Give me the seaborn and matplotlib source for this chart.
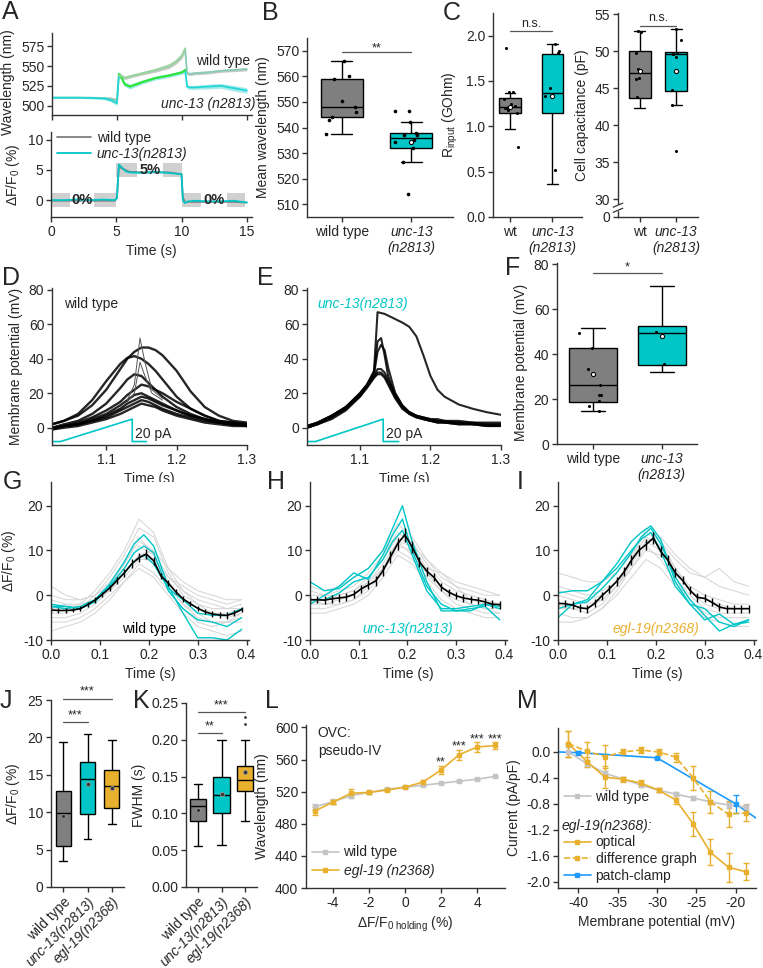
import numpy as np
import pandas as pd
import matplotlib
matplotlib.use("Agg")
import matplotlib.pyplot as plt
from matplotlib.lines import Line2D
import seaborn as sns

sns.set_style("ticks")
plt.rcParams['font.family'] = ['Liberation Sans', 'DejaVu Sans']
plt.rcParams['mathtext.fontset'] = 'custom'
plt.rcParams['mathtext.rm'] = 'Liberation Sans'
plt.rcParams['mathtext.it'] = 'Liberation Sans:italic'
plt.rcParams['axes.unicode_minus'] = False
plt.rcParams['font.size'] = 10
plt.rcParams['axes.edgecolor'] = '#333333'
plt.rcParams['axes.linewidth'] = 1

FS = 10
GRAY = '#7f7f7f'
CYAN = '#00c6c8'
ORANGE = '#e9b02e'
BLUE = '#1e9bff'
LGRAY = '#c4c4c4'

# ---------------- data ----------------
# A: wavelength and dF/F0 time courses
t_A = [0, 1, 2, 3, 4, 4.5, 5.0, 5.15, 5.3, 5.6, 6, 7, 8, 9, 9.5, 10, 10.25, 10.4, 10.6, 11, 12, 13, 14, 15]
wl_wt = [510, 510, 510, 510, 509.5, 509, 507, 538, 538, 535, 537, 541, 545, 550, 555, 563, 572, 541, 540, 541, 542, 544, 545, 546]
wl_wt_sem = [1, 1, 1, 1, 1, 1.5, 2, 2, 2, 2, 2, 2, 2.5, 3, 3, 3.5, 4, 2, 2, 2, 2, 2, 2, 2]
wl_unc = [510, 510, 510, 509.5, 509, 507, 503, 540, 537, 527, 524, 530, 535, 538, 540, 542, 545, 524, 523, 523, 524, 525, 522, 519]
wl_unc_sem = [1, 1, 1, 1, 1.5, 2, 3, 3, 3, 3, 3, 2.5, 2.5, 2.5, 2.5, 2.5, 3, 2.5, 2.5, 2.5, 3, 3, 3.5, 3.5]

t_A2 = [0, 1, 2, 3, 4, 4.9, 5.05, 5.2, 5.4, 5.7, 6, 7, 8, 9, 10, 10.1, 10.25, 10.5, 11, 12, 13, 14, 15]
df_wt = [-0.1, -0.1, -0.1, -0.1, -0.1, -0.1, 0.3, 5.6, 5.3, 5.0, 4.7, 4.6, 4.6, 4.6, 4.3, 0.5, -0.3, -0.3, -0.3, -0.3, -0.3, -0.3, -0.4]
df_unc = [0, 0, 0.1, 0, 0.1, 0, 0.4, 5.9, 5.5, 4.8, 4.6, 4.5, 4.7, 4.5, 4.3, 0.0, -0.5, -0.2, -0.1, -0.2, -0.2, -0.1, -0.4]

# B: mean wavelength (whisker low, Q1, median, Q3, whisker high)
B_cats = ['wild type', 'unc-13']
B_wt_box = [537.5, 544, 548, 559, 566]
B_unc_box = [526.5, 532, 536, 538, 542]
B_wt_pts = [566, 560, 559, 550.3, 548, 546, 543, 544, 537.5]
B_unc_pts = [546.5, 546.5, 542, 538, 537, 537, 535, 534.5, 532, 526.5, 514]
B_unc_mean = 534.5

# C: input resistance and capacitance
C_cats = ['wt', 'unc-13']
Cr_wt_box = [0.97, 1.15, 1.21, 1.31, 1.37]
Cr_unc_box = [0.36, 1.15, 1.37, 1.80, 1.91]
Cr_wt_pts = [1.86, 1.38, 1.38, 1.30, 1.25, 1.22, 1.20, 1.20, 1.18, 1.15, 0.77]
Cr_unc_pts = [1.91, 1.83, 1.81, 1.42, 1.34, 0.52]
Cr_means = [1.21, 1.33]
Cc_wt_box = [42.4, 43.7, 47.1, 50.0, 52.7]
Cc_unc_box = [42.7, 44.7, 49.7, 49.9, 53.1]
Cc_wt_pts = [52.6, 52.7, 49.8, 47.6, 46.4, 46.3, 43.8]
Cc_unc_pts = [53.1, 51.5, 49.8, 49.7, 49.7, 49.3, 44.8, 42.7, 36.5]
Cc_means = [47.3, 47.4]

# D: wild type membrane potential traces
t_D = [1.023, 1.04, 1.06, 1.08, 1.10, 1.12, 1.13, 1.14, 1.15, 1.16, 1.17, 1.18, 1.20, 1.22, 1.24, 1.26, 1.28, 1.30]
D_traces = [
    [2, 4, 7, 13, 22, 34, 40, 44, 46.5, 46.5, 45, 42, 33, 21, 12, 7, 4, 3],
    [2, 4, 8, 16, 27, 37, 40.5, 41.5, 40, 37, 33, 28, 18, 11, 7, 4, 3, 2],
    [0, 2, 4, 8, 14, 23, 28, 31, 30, 26, 22, 18, 12, 8, 5, 3, 2, 1],
    [0, 1, 3, 6, 10, 15, 19, 22, 25, 24, 22, 20, 15, 11, 7, 4, 3, 2],
    [0, 1, 2, 5, 8, 13, 16, 19, 20, 18, 16, 14, 10, 7, 5, 3, 2, 2],
    [-1, 1, 2, 4, 7, 11, 14, 16, 18, 17, 15, 13, 10, 7, 5, 3, 2, 1],
    [0, 1, 2, 4, 6, 10, 12, 14, 16, 15, 13, 11, 8, 6, 4, 3, 2, 1],
    [-1, 0, 1, 3, 5, 8, 10, 12, 14, 13, 12, 10, 7, 5, 3, 2, 1, 1],
]
t_spike = [1.13, 1.14, 1.148, 1.155, 1.165, 1.18]
D_spike1 = [16, 25, 52, 38, 22, 17]
D_spike2 = [15, 20, 38, 30, 20, 16]
ramp_tD = [1.023, 1.035, 1.137, 1.137, 1.157]
ramp_tE = [1.025, 1.037, 1.133, 1.133, 1.155]
ramp_v = [-8, -8, 5, -8, -8]

# E: unc-13 membrane potential traces
t_E = [1.025, 1.04, 1.06, 1.08, 1.10, 1.11, 1.12, 1.125, 1.13, 1.135, 1.14, 1.15, 1.16, 1.17, 1.18, 1.19, 1.20, 1.21, 1.22, 1.24, 1.26, 1.28, 1.30]
E_traces = [
    [1, 3, 7, 12, 20, 25, 33, 67, 66.5, 66, 65, 63, 61, 58.5, 53, 42, 30, 22, 18, 13.5, 11, 9, 7.5],
    [1, 3, 7, 12, 20, 25, 32, 50, 52, 42, 30, 18, 12, 9, 7, 6, 5, 5, 4, 4, 3, 3, 3],
    [0, 2, 6, 11, 19, 24, 31, 44, 48, 45, 35, 20, 13, 9, 7, 6, 5, 4, 4, 3, 3, 2, 2],
    [0, 2, 6, 11, 18, 24, 30, 34, 34, 32, 28, 20, 13, 9, 7, 5, 4, 4, 3, 3, 2, 2, 2],
    [0, 2, 5, 10, 18, 23, 29, 32, 32, 30, 26, 18, 12, 8, 6, 5, 4, 3, 3, 2, 2, 1, 1],
    [1, 3, 7, 12, 19, 24, 29, 31, 31, 29, 25, 17, 11, 8, 6, 5, 4, 3, 3, 2, 2, 1, 1],
]

# F: peak membrane potential
F_cats = ['wild type', 'unc-13']
F_wt_box = [14.5, 18.9, 26.4, 42.6, 51.4]
F_unc_box = [32.1, 35.2, 49.3, 52.3, 70.3]
F_wt_pts = [49.4, 42.6, 33.4, 26.4, 22, 22, 19.3, 17.1, 14.5]
F_unc_pts = [50, 35.5]
F_means = [31.2, 48.0]

# G/H/I: dF/F0 transients
t_mean = [0, .015, .03, .045, .06, .075, .09, .105, .12, .135, .15, .165, .18, .195, .21, .225, .24,
          .255, .27, .285, .30, .315, .33, .345, .36, .375, .39]
G_mean = [-3.3, -3.4, -3.4, -3.3, -3.0, -2.1, -1.1, 0.2, 1.6, 3.3, 5.0, 7.0, 8.4, 9.2, 7.7, 4.3, 2.7,
          0.8, -0.8, -1.9, -2.9, -3.7, -4.2, -4.4, -4.5, -4.0, -3.2]
H_mean = [-1.0, -1.0, -1.1, -0.8, -0.6, -0.4, 0.2, 1.4, 2.3, 3.2, 5.5, 8.5, 11.5, 13.5, 10.8, 7.5, 5.4,
          4.0, 1.8, 0.7, -0.1, -0.6, -0.9, -1.1, -1.5, -2.0, -2.1]
I_mean = [-1.8, -1.9, -2.2, -2.8, -3.0, -1.8, -0.1, 1.4, 3.1, 5.2, 7.8, 10.0, 11.3, 12.8, 9.8, 7.8, 5.0,
          3.3, 1.1, -0.5, -0.7, -1.6, -2.6, -3.0, -3.0, -3.0, -3.0]
G_sem = [0.6, 0.5, 0.5, 0.5, 0.5, 0.6, 0.6, 0.6, 0.7, 0.8, 0.9, 1.0, 1.0, 1.1, 0.9, 0.7, 0.6,
         0.6, 0.6, 0.6, 0.6, 0.6, 0.6, 0.6, 0.7, 0.6, 0.6]
H_sem = [0.8, 0.8, 0.9, 0.9, 0.8, 0.8, 0.9, 0.9, 1.0, 1.1, 1.2, 1.3, 1.4, 1.5, 1.3, 1.1, 1.0,
         0.9, 0.9, 0.8, 0.8, 0.8, 0.8, 0.8, 0.8, 0.9, 0.9]
I_sem = [0.8, 0.8, 0.9, 0.9, 0.9, 0.9, 0.9, 0.9, 1.0, 1.0, 1.1, 1.2, 1.2, 1.3, 1.2, 1.1, 1.0,
         0.9, 0.9, 0.9, 0.9, 0.9, 0.9, 0.9, 0.9, 0.9, 0.9]

t_g = [0, .03, .06, .09, .12, .15, .18, .21, .24, .27, .30, .33, .36, .39]
G_gray = [
    [-2, -3, -3, -1, 2, 6, 11, 9, 3, -1, -3, -4, -4, -3],
    [-4, -4, -3, 0, 4, 9, 15, 13, 5, 0, -2, -3, -3, -2],
    [-3, -3, -2, 1, 5, 10, 17, 14, 6, 1, -2, -4, -5, -4],
    [-1, -2, -2, -1, 1, 4, 8, 8, 4, 1, -1, -2, -3, -3],
    [-5, -5, -4, -2, 1, 5, 9, 7, 2, -2, -5, -6, -6, -5],
    [2, 0, -1, 0, 3, 7, 12, 10, 4, 2, 0, -1, -2, -1],
    [-6, -6, -5, -3, 0, 3, 7, 5, 1, -3, -6, -7, -6, -6],
    [-3, -2, -3, -1, 2, 7, 13, 9, 2, -2, -4, -6, -6, -4],
    [0, -1, -1, 0, 2, 5, 9, 10, 6, 3, 1, 0, -1, -1],
    [-8, -7, -6, -4, -1, 3, 6, 4, 0, -4, -7, -8, -9, -8],
]
H_gray = [
    [-2, -2, -1, 0, 3, 7, 12, 9, 5, 1, -1, -2, -3, -3],
    [0, 0, 1, 2, 5, 9, 14, 12, 7, 3, 1, 0, -1, -2],
    [-3, -3, -2, -1, 2, 6, 10, 8, 4, 1, -2, -3, -4, -4],
    [2, 1, 2, 4, 6, 10, 16, 13, 8, 4, 2, 1, 0, 0],
    [-4, -4, -3, -2, 0, 4, 9, 7, 3, -1, -3, -4, -5, -5],
    [1, 0, 0, 1, 4, 8, 13, 11, 6, 5, 3, 2, 1, 0],
    [-1, -2, -2, -1, 1, 5, 11, 10, 5, 2, 0, -2, -3, -4],
    [-2, -1, 0, 1, 3, 6, 12, 11, 8, 5, 2, -1, -2, -2],
]
I_gray = [
    [-2, -3, -4, -2, 2, 7, 12, 10, 5, 1, -2, -3, -3, -3],
    [1, 0, -1, 0, 3, 8, 13, 11, 6, 2, 0, -1, -2, -2],
    [-4, -5, -5, -3, 1, 6, 11, 8, 3, -1, -4, -5, -5, -5],
    [5, 4, 3, 3, 5, 9, 14, 12, 8, 5, 4, 6, 3, 2],
    [-3, -3, -3, -1, 2, 6, 10, 9, 4, 0, -3, -4, -4, -4],
    [0, -1, -2, -1, 2, 8, 15, 12, 6, 1, -1, -2, -3, -3],
    [-6, -6, -5, -3, 0, 4, 8, 6, 2, -2, -5, -6, -7, -7],
    [2, 1, 0, 1, 3, 7, 12, 13, 9, 6, 4, 2, 1, 0],
]
t_c = [0, .03, .06, .09, .12, .15, .17, .19, .21, .24, .27, .30, .33, .36, .39]
G_cyan = [
    [-2.5, -3.0, -2.5, -1.0, 2.5, 7.5, 11.5, 13.5, 11.0, 2.0, -4.0, -9.5, -9.5, -10, -7.6],
    [-2.0, -2.5, -3.0, -1.5, 2.0, 6.0, 9.5, 11.0, 9.5, 1.0, -3.0, -5.5, -6.0, -7.0, -5.0],
    [-2.5, -2.5, -3.0, -1.0, 2.0, 5.0, 7.5, 9.0, 7.0, 1.5, -1.0, -4.0, -4.5, -4.5, -3.0],
]
H_cyan = [
    [3.0, 1.0, 1.5, 4.0, 6.0, 10.0, 15.0, 20.0, 12.0, 3.0, -3.5, -3.5, -3.0, -2.5, -5.5],
    [-2.0, 0.0, 2.0, 5.0, 3.5, 9.0, 13.5, 17.0, 10.0, 2.0, -2.0, -3.5, -3.5, -2.0, -3.0],
    [-1.0, -1.0, 0.5, 3.0, 4.0, 8.0, 12.0, 14.5, 9.0, 1.0, -3.0, -3.0, -2.5, -2.0, -2.5],
]
I_cyan = [
    [0.5, 1.0, 1.0, 3.0, 7.0, 12.0, 14.0, 15.5, 12.5, 3.0, -2.0, -5.5, -4.2, -6.5, -5.5],
    [-5.0, -2.0, -1.0, 3.0, 6.0, 10.0, 12.5, 14.0, 10.0, 2.0, -2.0, -3.0, -6.0, -7.0, -5.5],
    [-3.0, -2.0, -1.5, 1.5, 5.0, 9.5, 13.0, 15.0, 11.5, 4.0, -1.0, -4.5, -8.0, -6.5, -6.0],
]

# J/K: amplitude and FWHM
JK_cats = ['wild type', 'unc-13(n2813)', 'egl-19(n2368)']
J_boxes = [[3.5, 5.5, 9.9, 12.8, 19.4], [6.4, 9.8, 14.4, 16.7, 20.5], [8.4, 10.5, 13.5, 15.6, 19.6]]
J_means = [9.5, 13.8, 13.2]
K_boxes = [[0.056, 0.090, 0.110, 0.120, 0.140], [0.057, 0.100, 0.125, 0.150, 0.200],
           [0.090, 0.130, 0.145, 0.165, 0.200]]
K_means = [0.105, 0.126, 0.156]
K_egl_out = [0.221, 0.231]

# L: pseudo-IV
L_x = [-5, -4, -3, -2, -1, 0, 1, 2, 3, 4, 5]
L_wt = [501, 507.5, 515, 519, 523, 525.5, 528, 530.5, 533, 535.5, 539]
L_wt_err = [4, 3, 3, 1.5, 1.5, 1, 1, 1, 1, 1, 1]
L_egl = [496, 507, 518, 519, 522, 525.5, 532, 547, 566, 575.5, 577.5]
L_egl_err = [5, 3, 5, 1.5, 1.5, 1, 2, 5, 6, 6, 4]
L_stars = ['', '', '', '', '', '', '', '**', '***', '***', '***']

# M: current vs membrane potential
M_x = [-41.3, -38.9, -36.6, -34.3, -32.1, -29.8, -27.6, -25.4, -23.2, -20.9, -18.7]
M_wt = [0.0, -0.18, -0.33, -0.42, -0.51, -0.59, -0.65, -0.71, -0.77, -0.82, -0.85]
M_wt_err = [0.08, 0.05, 0.04, 0.03, 0.03, 0.03, 0.03, 0.03, 0.03, 0.04, 0.04]
M_opt = [0.13, -0.15, -0.39, -0.42, -0.48, -0.59, -0.74, -1.11, -1.55, -1.78, -1.85]
M_opt_err = [0.2, 0.08, 0.17, 0.04, 0.04, 0.03, 0.07, 0.18, 0.2, 0.22, 0.13]
M_diff = [0.13, 0.01, -0.07, 0.0, 0.03, 0.0, -0.08, -0.40, -0.77, -0.96, -0.94]
M_diff_err = [0.2, 0.15, 0.18, 0.04, 0.05, 0.04, 0.07, 0.18, 0.17, 0.2, 0.12]
M_pc_x = [-42.6, -40.1, -30.0, -20.0, -17.4]
M_pc = [0.0, -0.01, -0.09, -0.80, -1.02]
M_pc_err = [0, 0.02, 0.02, 0.14, 0]

# ---------------- figure ----------------
W, H = 763, 968
fig = plt.figure(figsize=(W / 100, H / 100), dpi=100)


def add_ax(l, r, t, b):
    ax = fig.add_axes([l / W, 1 - b / H, (r - l) / W, (b - t) / H])
    ax.spines[['top', 'right']].set_visible(False)
    ax.tick_params(direction='out', length=3.5, width=1, labelsize=FS, pad=2, color='#333333')
    return ax


def letter(x, y, s):
    fig.text(x / W, 1 - y / H, s, fontsize=18, ha='left', va='center')


def boxes(ax, cats, fives, colors, width):
    d = pd.DataFrame({'grp': np.repeat(cats, 5), 'val': np.concatenate(fives)})
    sns.boxplot(data=d, x='grp', y='val', hue='grp', order=cats, hue_order=cats, palette=colors,
                whis=(0, 100), showfliers=False, width=width, saturation=1, linecolor='black',
                linewidth=1, legend=False, ax=ax)


def dots(ax, cats, pts, size=2.5, jitter=0.2, **kw):
    d = pd.DataFrame({'grp': np.concatenate([[c] * len(p) for c, p in zip(cats, pts)]),
                      'val': np.concatenate(pts)})
    sns.stripplot(data=d, x='grp', y='val', order=cats, color='black', size=size, jitter=jitter,
                  ax=ax, **kw)


def means(ax, cats, vals, size=3.5):
    sns.stripplot(x=cats, y=vals, order=cats, jitter=False, color='white', edgecolor='black',
                  linewidth=0.8, size=size, ax=ax)


def sig(ax, x0, x1, y, s, dy):
    ax.plot([x0, x1], [y, y], color='#555555', lw=0.9, clip_on=False)
    ax.text((x0 + x1) / 2, y + dy, s, ha='center', va='center', fontsize=9, clip_on=False)


np.random.seed(3)

# ---- A top
ax = add_ax(52, 252, 33, 115)
ax.fill_between(t_A, np.array(wl_wt) - wl_wt_sem, np.array(wl_wt) + wl_wt_sem, color='#c8c8c8', lw=0)
ax.fill_between(t_A, np.array(wl_unc) - wl_unc_sem, np.array(wl_unc) + wl_unc_sem, color='#8ee6e6', lw=0, alpha=0.8)
sns.lineplot(x=t_A, y=wl_wt, color='#86cdb4', lw=1.3, ax=ax)
sns.lineplot(x=t_A, y=wl_unc, color='#22d6d6', lw=1.3, ax=ax)
mid = [i for i, t in enumerate(t_A) if 5.15 <= t <= 10.25]
sns.lineplot(x=[t_A[i] for i in mid], y=[wl_unc[i] for i in mid], color='#33e633', lw=1.5, ax=ax)
sns.lineplot(x=[t_A[i] for i in mid], y=[wl_wt[i] for i in mid], color='#9ad69a', lw=1.3, ax=ax)
ax.set_xlim(0, 15.4)
ax.set_ylim(488, 592)
ax.set_yticks([500, 525, 550, 575])
ax.set_xticks([0, 5, 10, 15])
ax.set_xticklabels([])
ax.set_ylabel('Wavelength (nm)', fontsize=FS)
ax.yaxis.label.set_y(0.4)
ax.text(13.2, 557, 'wild type', ha='center', va='center', fontsize=FS)
ax.text(12.0, 502, 'unc-13 (n2813)', ha='center', va='center', fontsize=FS, style='italic')

# ---- A bottom
ax = add_ax(51, 252, 132, 217)
for (a, b, y0, y1) in [(0, 1.45, -1.1, 1.1), (3.3, 4.95, -1.1, 1.1), (5.0, 6.6, 3.8, 6.1),
                       (8.6, 10.0, 3.8, 6.1), (10.05, 11.5, -1.1, 1.1), (13.5, 14.9, -1.1, 1.1)]:
    ax.fill_between([a, b], [y0, y0], [y1, y1], color='#d0d0d0', lw=0)
sns.lineplot(x=t_A2, y=df_wt, color=GRAY, lw=1.3, ax=ax, label='wild type')
sns.lineplot(x=t_A2, y=df_unc, color=CYAN, lw=1.3, ax=ax, label='unc-13(n2813)')
ax.text(2.4, 0, '0%', ha='center', va='center', fontsize=10.5, fontweight='bold')
ax.text(7.6, 5.0, '5%', ha='center', va='center', fontsize=10.5, fontweight='bold')
ax.text(12.5, 0, '0%', ha='center', va='center', fontsize=10.5, fontweight='bold')
ax.set_xlim(0, 15.4)
ax.set_ylim(-2.8, 11.3)
ax.set_yticks([0, 5, 10])
ax.set_xticks([0, 5, 10, 15])
ax.set_xlabel('Time (s)', fontsize=FS)
ax.set_ylabel('ΔF/F$_0$ (%)', fontsize=FS)
leg = ax.legend(loc='upper left', bbox_to_anchor=(0.0, 1.08), frameon=False, fontsize=FS,
                handlelength=2.5, borderaxespad=0, labelspacing=0.15, handletextpad=0.4)
leg.get_texts()[1].set_style('italic')

# ---- B
ax = add_ax(307, 453, 38, 217)
boxes(ax, B_cats, [B_wt_box, B_unc_box], [GRAY, CYAN], 0.6)
dots(ax, B_cats, [B_wt_pts, B_unc_pts], size=2.6, jitter=0.25)
means(ax, B_cats[1:], [B_unc_mean], size=3)
ax.set_xlim(-0.5, 1.6)
ax.set_ylim(505, 575)
ax.set_yticks(range(510, 571, 10))
ax.set_xticks([0, 1])
ax.set_xticklabels(['wild type', 'unc-13\n(n2813)'])
ax.get_xticklabels()[1].set_style('italic')
ax.set_xlabel('')
ax.set_ylabel('Mean wavelength (nm)', fontsize=FS)
sig(ax, 0, 1, 569.5, '**', 1.5)

# ---- C left
ax = add_ax(493, 582, 13, 217)
boxes(ax, C_cats, [Cr_wt_box, Cr_unc_box], [GRAY, CYAN], 0.5)
dots(ax, C_cats, [Cr_wt_pts, Cr_unc_pts], size=2.2, jitter=0.2)
means(ax, C_cats, Cr_means, size=3)
ax.set_xlim(-0.4, 1.7)
ax.set_ylim(0, 2.25)
ax.set_yticks([0, 0.5, 1.0, 1.5, 2.0])
ax.set_yticklabels(['0.0', '0.5', '1.0', '1.5', '2.0'])
ax.set_xticks([0, 1])
ax.set_xticklabels(['wt', 'unc-13\n(n2813)'])
ax.get_xticklabels()[1].set_style('italic')
ax.set_xlabel('')
ax.set_ylabel('R$_{\\rm input}$ (GOhm)', fontsize=FS)
sig(ax, 0, 1, 2.05, 'n.s.', 0.08)

# ---- C right
ax = add_ax(618, 698, 13, 217)
boxes(ax, C_cats, [Cc_wt_box, Cc_unc_box], [GRAY, CYAN], 0.6)
dots(ax, C_cats, [Cc_wt_pts, Cc_unc_pts], size=2.2, jitter=0.2)
means(ax, C_cats, Cc_means, size=3)
ax.set_xlim(-0.6, 1.6)
ax.set_ylim(27.6, 55.2)
ax.set_yticks([27.6, 30, 35, 40, 45, 50, 55])
ax.set_yticklabels(['0', '30', '35', '40', '45', '50', '55'])
ax.set_xticks([0, 1])
ax.set_xticklabels(['wt', 'unc-13\n(n2813)'])
ax.get_xticklabels()[1].set_style('italic')
ax.set_xlabel('')
ax.set_ylabel('Cell capacitance (pF)', fontsize=FS)
sig(ax, 0, 1, 53.5, 'n.s.', 1.0)
ax.fill_between([-0.05, 0.05], [0.035, 0.035], [0.06, 0.06], color='white', transform=ax.transAxes,
                clip_on=False, zorder=5)
for yb in (0.033, 0.058):
    ax.plot([-0.06, 0.06], [yb - 0.01, yb + 0.01], color='#333333', lw=0.9, transform=ax.transAxes,
            clip_on=False, zorder=6)

# ---- D
ax = add_ax(52, 247, 288, 445)
dD = pd.DataFrame({'t': np.tile(t_D, len(D_traces)), 'v': np.concatenate(D_traces),
                   'trace': np.repeat(np.arange(len(D_traces)), len(t_D))})
sns.lineplot(data=dD, x='t', y='v', units='trace', estimator=None, color='black', lw=1.7, alpha=0.85, ax=ax)
sns.lineplot(x=t_spike, y=D_spike1, color='#555555', lw=0.7, ax=ax)
sns.lineplot(x=t_spike, y=D_spike2, color='#555555', lw=0.7, ax=ax)
ax.plot(ramp_tD, ramp_v, color=CYAN, lw=1.2)
ax.text(1.141, -3.5, '20 pA', ha='left', va='center', fontsize=FS)
ax.text(1.04, 72, 'wild type', ha='left', va='center', fontsize=FS)
ax.set_xlim(1.023, 1.3)
ax.set_ylim(-10, 81)
ax.set_yticks([0, 20, 40, 60, 80])
ax.set_xticks([1.1, 1.2, 1.3])
ax.set_xlabel('Time (s)', fontsize=FS)
ax.set_ylabel('Membrane potential (mV)', fontsize=FS)

# ---- E
ax = add_ax(307, 501, 288, 445)
dE = pd.DataFrame({'t': np.tile(t_E, len(E_traces)), 'v': np.concatenate(E_traces),
                   'trace': np.repeat(np.arange(len(E_traces)), len(t_E))})
sns.lineplot(data=dE, x='t', y='v', units='trace', estimator=None, color='black', lw=1.5, alpha=0.85, ax=ax)
ax.plot(ramp_tE, ramp_v, color=CYAN, lw=1.2)
ax.text(1.137, -3.5, '20 pA', ha='left', va='center', fontsize=FS)
ax.text(1.04, 72, 'unc-13(n2813)', ha='left', va='center', fontsize=FS, style='italic', color=CYAN)
ax.set_xlim(1.025, 1.3)
ax.set_ylim(-10, 81)
ax.set_yticks([0, 20, 40, 60, 80])
ax.set_xticks([1.1, 1.2, 1.3])
ax.set_xlabel('Time (s)', fontsize=FS)
ax.set_ylabel('')

# ---- F
ax = add_ax(557, 697, 263, 444)
boxes(ax, F_cats, [F_wt_box, F_unc_box], [GRAY, CYAN], 0.7)
dots(ax, F_cats, [F_wt_pts, F_unc_pts], size=2.2, jitter=0.25)
means(ax, F_cats, F_means, size=3)
ax.set_xlim(-0.52, 1.51)
ax.set_ylim(0, 80.5)
ax.set_yticks([0, 20, 40, 60, 80])
ax.set_xticks([0, 1])
ax.set_xticklabels(['wild type', 'unc-13\n(n2813)'])
ax.get_xticklabels()[1].set_style('italic')
ax.set_xlabel('')
ax.set_ylabel('Membrane potential (mV)', fontsize=FS)
ax.yaxis.label.set_y(0.45)
sig(ax, 0, 1, 76, '*', 2.5)

# ---- G / H / I
for (l, r, gray, cyan, mean, sem, lab, col, ylab) in [
        (51, 249, G_gray, G_cyan, G_mean, G_sem, 'wild type', 'black', True),
        (310, 507, H_gray, H_cyan, H_mean, H_sem, 'unc-13(n2813)', CYAN, False),
        (558, 756, I_gray, I_cyan, I_mean, I_sem, 'egl-19(n2368)', ORANGE, False)]:
    ax = add_ax(l, r, 482, 640)
    dg = pd.DataFrame({'t': np.tile(t_g, len(gray)), 'v': np.concatenate(gray),
                       'trace': np.repeat(np.arange(len(gray)), len(t_g))})
    sns.lineplot(data=dg, x='t', y='v', units='trace', estimator=None, color='#d4d4d4', lw=0.7, ax=ax)
    dc = pd.DataFrame({'t': np.tile(t_c, len(cyan)), 'v': np.concatenate(cyan),
                       'trace': np.repeat(np.arange(len(cyan)), len(t_c))})
    sns.lineplot(data=dc, x='t', y='v', units='trace', estimator=None, color=CYAN, lw=1.0, ax=ax)
    ax.errorbar(t_mean, mean, yerr=sem, color='black', lw=1.2, elinewidth=1, capsize=0)
    ax.text(0.2, -7.5, lab, ha='center', va='center', fontsize=FS, color=col,
            style='normal' if lab == 'wild type' else 'italic')
    ax.set_xlim(0, 0.405)
    ax.set_ylim(-10, 25.3)
    ax.set_yticks([-10, 0, 10, 20])
    ax.set_xticks([0, 0.1, 0.2, 0.3, 0.4])
    ax.set_xticklabels(['0.0', '0.1', '0.2', '0.3', '0.4'])
    ax.set_xlabel('Time (s)', fontsize=FS)
    ax.set_ylabel('ΔF/F$_0$ (%)' if ylab else '', fontsize=FS)

# ---- J
ax = add_ax(51, 124, 700, 887)
boxes(ax, JK_cats, J_boxes, [GRAY, CYAN, ORANGE], 0.62)
sns.stripplot(x=JK_cats, y=J_means, order=JK_cats, jitter=False, color='#333333', edgecolor='#999999',
              linewidth=0.6, size=3, ax=ax)
ax.set_xlim(-0.5, 2.5)
ax.set_ylim(0, 25)
ax.set_yticks([0, 5, 10, 15, 20, 25])
ax.set_xticks([0, 1, 2])
ax.set_xticklabels(JK_cats, rotation=45, ha='right', rotation_mode='anchor')
for tl in ax.get_xticklabels()[1:]:
    tl.set_style('italic')
ax.set_xlabel('')
ax.set_ylabel('ΔF/F$_0$ (%)', fontsize=FS)
sig(ax, 0, 1, 22.1, '***', 0.9)
sig(ax, 0, 2, 25.2, '***', 0.9)

# ---- K
ax = add_ax(186, 257, 703, 887)
boxes(ax, JK_cats, K_boxes, [GRAY, CYAN, ORANGE], 0.68)
sns.stripplot(x=JK_cats, y=K_means, order=JK_cats, jitter=False, color='#333333', edgecolor='#999999',
              linewidth=0.6, size=3, ax=ax)
sns.stripplot(x=[JK_cats[2]] * len(K_egl_out), y=K_egl_out, order=JK_cats, jitter=False, color='#333333',
              size=2, ax=ax)
ax.set_xlim(-0.5, 2.5)
ax.set_ylim(0, 0.25)
ax.set_yticks([0, 0.05, 0.10, 0.15, 0.20, 0.25])
ax.set_yticklabels(['0.00', '0.05', '0.10', '0.15', '0.20', '0.25'])
ax.set_xticks([0, 1, 2])
ax.set_xticklabels(JK_cats, rotation=45, ha='right', rotation_mode='anchor')
for tl in ax.get_xticklabels()[1:]:
    tl.set_style('italic')
ax.set_xlabel('')
ax.set_ylabel('FWHM (s)', fontsize=FS)
sig(ax, 0, 1, 0.2097, '**', 0.009)
sig(ax, 0, 2, 0.238, '***', 0.009)

# ---- L
ax = add_ax(306, 505, 725, 888)
ax.errorbar(L_x, L_wt, yerr=L_wt_err, color=LGRAY, lw=1.2, marker='s', ms=3, capsize=2, elinewidth=1,
            label='wild type')
ax.errorbar(L_x, L_egl, yerr=L_egl_err, color=ORANGE, lw=1.2, marker='s', ms=3, capsize=2, elinewidth=1,
            label='egl-19 (n2368)')
for x, y, e, s in zip(L_x, L_egl, L_egl_err, L_stars):
    if s:
        ax.text(x, y + e + 4, s, ha='center', va='center', fontsize=9)
ax.text(-4.85, 593, 'OVC:', ha='left', va='center', fontsize=FS)
ax.text(-4.85, 571, 'pseudo-IV', ha='left', va='center', fontsize=FS)
ax.set_xlim(-5.5, 5.55)
ax.set_ylim(400, 603)
ax.set_yticks(range(400, 601, 40))
ax.set_xticks([-4, -2, 0, 2, 4])
ax.set_xlabel('ΔF/F$_{0\\ \\rm holding}$ (%)', fontsize=FS)
ax.set_ylabel('Wavelength (nm)', fontsize=FS)
leg = ax.legend(handles=[Line2D([], [], color=LGRAY, marker='s', ms=3, lw=1.2),
                         Line2D([], [], color=ORANGE, marker='s', ms=3, lw=1.2)],
                labels=['wild type', 'egl-19 (n2368)'], loc='lower left', bbox_to_anchor=(0.0, 0.03),
                frameon=False, fontsize=FS, handlelength=2.0, borderaxespad=0, labelspacing=0.3,
                handletextpad=0.3)
leg.get_texts()[1].set_style('italic')

# ---- M
ax = add_ax(558, 756, 728, 888)
ax.errorbar(M_x, M_wt, yerr=M_wt_err, color=LGRAY, lw=1.2, marker='s', ms=3, capsize=2, elinewidth=1)
ax.errorbar(M_x, M_opt, yerr=M_opt_err, color=ORANGE, lw=1.2, marker='s', ms=3, capsize=2, elinewidth=1)
ax.errorbar(M_x, M_diff, yerr=M_diff_err, color=ORANGE, lw=1.2, ls='--', marker='s', ms=3, capsize=2,
            elinewidth=1)
sns.lineplot(x=M_pc_x, y=M_pc, color=BLUE, lw=1.2, ax=ax)
ax.errorbar(M_pc_x[1:4], M_pc[1:4], yerr=M_pc_err[1:4], color=BLUE, ls='none', marker='s', ms=3, capsize=2,
            elinewidth=1)
ax.set_xlim(-42.6, -17.4)
ax.set_ylim(-2.1, 0.37)
ax.set_yticks([0.0, -0.4, -0.8, -1.2, -1.6, -2.0])
ax.set_yticklabels(['0.0', '-0.4', '-0.8', '-1.2', '-1.6', '-2.0'])
ax.set_xticks([-40, -35, -30, -25, -20])
ax.set_xlabel('Membrane potential (mV)', fontsize=FS)
ax.set_ylabel('Current (pA/pF)', fontsize=FS)
mk = dict(marker='s', ms=3, lw=1.2)
leg1 = ax.legend(handles=[Line2D([], [], color=LGRAY, **mk)], labels=['wild type'], loc='center left',
                 bbox_to_anchor=(0.0, 0.57), frameon=False, fontsize=FS, handlelength=2.0, borderaxespad=0,
                 handletextpad=0.3)
ax.add_artist(leg1)
ax.text(0.02, 0.39, 'egl-19(n2368):', transform=ax.transAxes, ha='left', va='center', fontsize=FS,
        style='italic')
ax.legend(handles=[Line2D([], [], color=ORANGE, **mk), Line2D([], [], color=ORANGE, ls='--', **mk),
                   Line2D([], [], color=BLUE, **mk)],
          labels=['optical', 'difference graph', 'patch-clamp'], loc='center left',
          bbox_to_anchor=(0.0, 0.18), frameon=False, fontsize=FS, handlelength=2.0, borderaxespad=0,
          handletextpad=0.3, labelspacing=0.2)

# panel letters
for s, x, y in [('A', 2, 12), ('B', 262, 13), ('C', 443, 13), ('D', 2, 278), ('E', 257, 278),
                ('F', 505, 268), ('G', 3, 482), ('H', 267, 482), ('I', 517, 482), ('J', 0, 701),
                ('K', 133, 701), ('L', 265, 701), ('M', 517, 701)]:
    letter(x, y, s)

fig.savefig('out.png', dpi=100)
